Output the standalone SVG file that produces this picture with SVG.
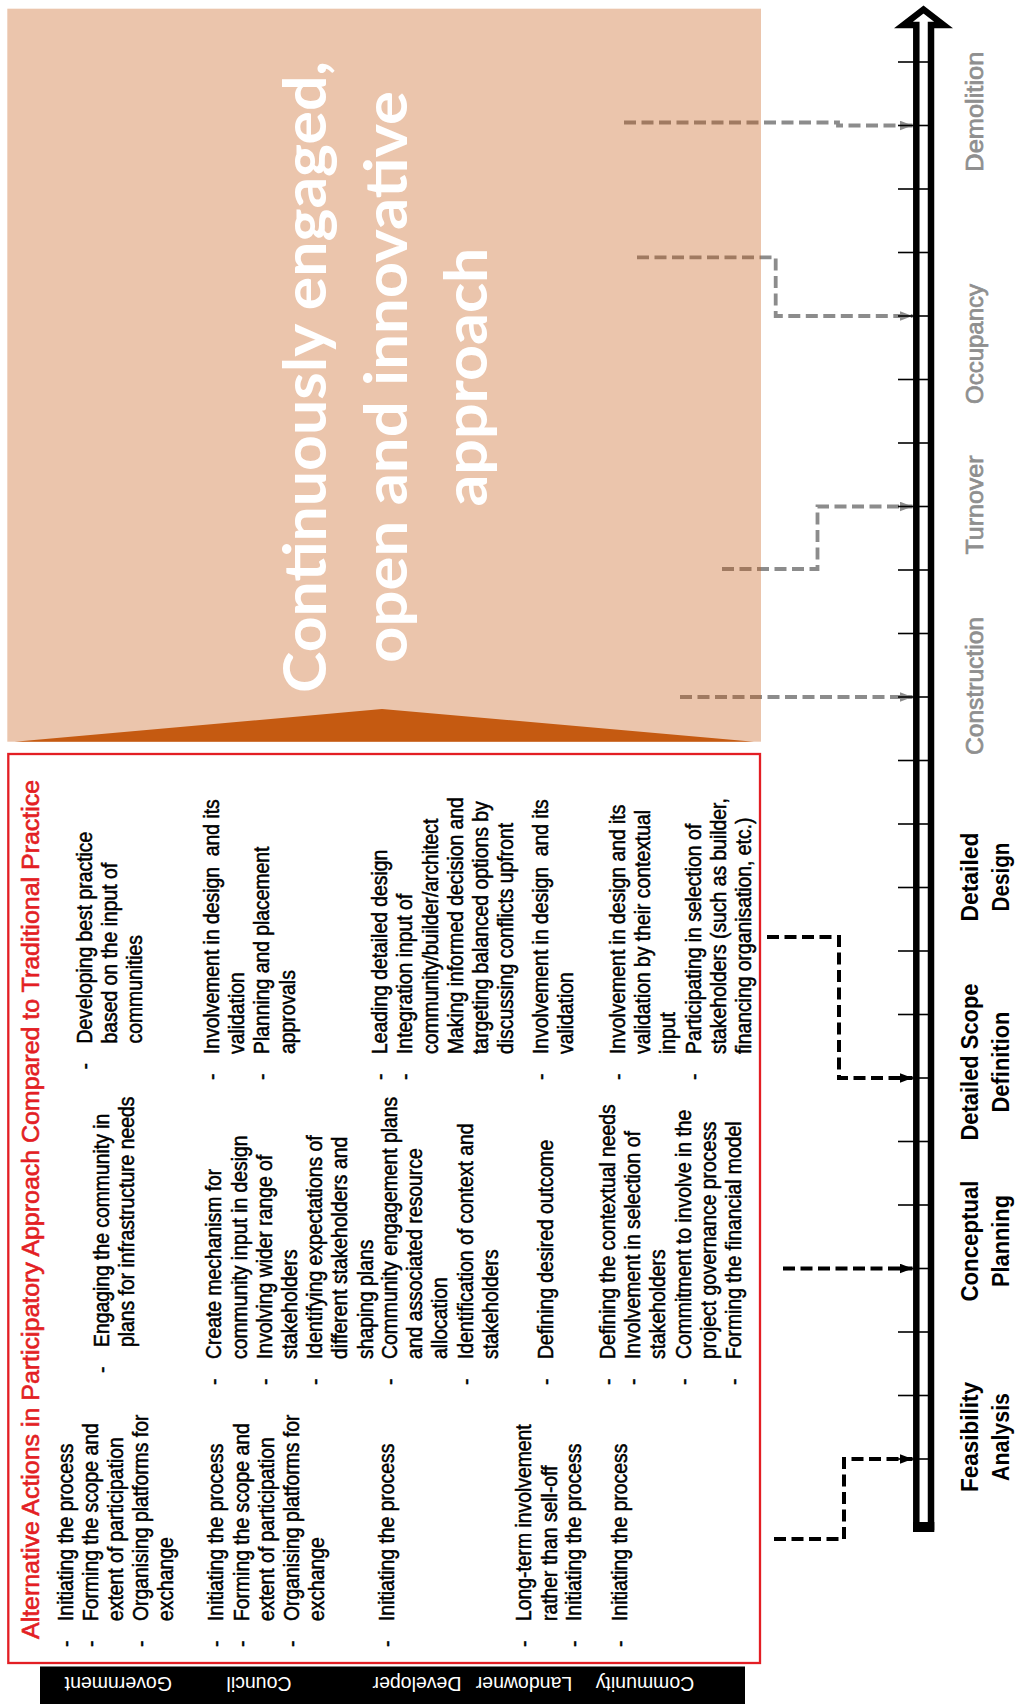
<svg xmlns="http://www.w3.org/2000/svg" width="1017" height="1704" viewBox="0 0 1017 1704">
  <defs>
    <style>
      .body{font-family:"Liberation Sans",Arial,sans-serif;font-size:21.5px;fill:#000;stroke:#000;stroke-width:0.5px;}
      .title{font-family:"Liberation Sans",Arial,sans-serif;font-size:23.3px;fill:#e31e24;stroke:#e31e24;stroke-width:0.6px;}
      .big{font-family:Lato,"Open Sans",sans-serif;font-weight:700;font-size:60px;fill:#fff;text-anchor:middle;}
      .stage{font-family:"Liberation Sans",Arial,sans-serif;font-weight:700;font-size:23px;fill:#000;text-anchor:middle;}
      .stage-later{font-family:"Liberation Sans",Arial,sans-serif;font-size:23px;fill:#8f8f8f;stroke:#8f8f8f;stroke-width:0.7px;text-anchor:middle;}
      .who{font-family:"Liberation Sans",Arial,sans-serif;font-size:19.5px;fill:#fff;text-anchor:middle;}
      .dash-k{fill:none;stroke:#000;stroke-width:4;stroke-dasharray:12 5.5;marker-end:url(#head-k);}
      .dash-g{fill:none;stroke:#8c8c8c;stroke-width:3.8;stroke-dasharray:12 5.5;marker-end:url(#head-g);}
      .tick{stroke:#000;stroke-width:1.6;}
    </style>
    <marker id="head-k" markerUnits="userSpaceOnUse" markerWidth="13" markerHeight="10" refX="13" refY="5" orient="auto">
      <path d="M0,0 L13,5 L0,10 Z" fill="#000"/>
    </marker>
    <marker id="head-g" markerUnits="userSpaceOnUse" markerWidth="13" markerHeight="10" refX="13" refY="5" orient="auto">
      <path d="M0,0 L13,5 L0,10 Z" fill="#8c8c8c"/>
    </marker>
  </defs>

  <rect width="1017" height="1704" fill="#fff"/>

  <!-- dashed links from the actions to the life-cycle stages -->
  <g id="connectors">
    <path class="dash-k" d="M774,1539 H844 V1459 H912.5"/>
    <path class="dash-k" d="M783,1268.5 H912.5"/>
    <path class="dash-k" d="M767,937 H839 V1078 H912.5"/>
    <path class="dash-g" d="M680,697 H912.5"/>
    <path class="dash-g" d="M722,569 H817.5 V506.5 H912.5"/>
    <path class="dash-g" d="M637,257.3 H775.7 V316 H912.5"/>
    <path class="dash-g" d="M624,122.5 H838 V125.5 H912.5"/>
  </g>

  <!-- translucent approach panel (lies over the grey links) -->
  <g id="approach-panel">
    <rect x="7.3" y="8.7" width="753.7" height="733" fill="#c55a11" fill-opacity="0.35"/>
    <polygon points="14.5,741.7 382,709 754,741.7" fill="#c55a11"/>
    <g transform="translate(0,377) rotate(-90)">
      <text class="big" x="0" y="326" textLength="632" lengthAdjust="spacingAndGlyphs">Continuously engaged,</text>
      <text class="big" x="0" y="407" textLength="572" lengthAdjust="spacingAndGlyphs">open and innovative</text>
      <text class="big" x="0" y="487" textLength="259" lengthAdjust="spacingAndGlyphs">approach</text>
    </g>
  </g>

  <!-- alternative actions box -->
  <g id="actions-box">
    <rect x="8.3" y="754" width="751.7" height="909" fill="none" stroke="#e31e24" stroke-width="2.3"/>
    <g transform="translate(0,1639) rotate(-90)">
      <text class="title" x="0" y="39.3" textLength="859" lengthAdjust="spacingAndGlyphs">Alternative Actions in Participatory Approach Compared to Traditional Practice</text>
    </g>
  </g>

  <g id="row-government" class="body">
    <g transform="translate(0,1621) rotate(-90) scale(0.9,1)">
      <text x="-29" y="72.7">-</text><text x="0" y="72.7">Initiating the process</text>
      <text x="-29" y="97.9">-</text><text x="0" y="97.9">Forming the scope and</text>
      <text x="0" y="123.1">extent of participation</text>
      <text x="-29" y="148.3">-</text><text x="0" y="148.3">Organising platforms for</text>
      <text x="0" y="173.5">exchange</text>
    </g>
    <g transform="translate(0,1347) rotate(-90) scale(0.9,1)">
      <text x="-29" y="109">-</text><text x="0" y="109">Engaging the community in</text>
      <text x="0" y="134">plans for infrastructure needs</text>
    </g>
    <g transform="translate(0,1043.5) rotate(-90) scale(0.9,1)">
      <text x="-29" y="92">-</text><text x="0" y="92">Developing best practice</text>
      <text x="0" y="117">based on the input of</text>
      <text x="0" y="142">communities</text>
    </g>
  </g>

  <g id="row-council" class="body">
    <g transform="translate(0,1621) rotate(-90) scale(0.9,1)">
      <text x="-29" y="223.5">-</text><text x="0" y="223.5">Initiating the process</text>
      <text x="-29" y="248.7">-</text><text x="0" y="248.7">Forming the scope and</text>
      <text x="0" y="273.9">extent of participation</text>
      <text x="-29" y="299.1">-</text><text x="0" y="299.1">Organising platforms for</text>
      <text x="0" y="324.3">exchange</text>
    </g>
    <g transform="translate(0,1359) rotate(-90) scale(0.9,1)">
      <text x="-29" y="221.5">-</text><text x="0" y="221.5">Create mechanism for</text>
      <text x="0" y="246.7">community input in design</text>
      <text x="-29" y="271.9">-</text><text x="0" y="271.9">Involving wider range of</text>
      <text x="0" y="297.1">stakeholders</text>
      <text x="-29" y="322.3">-</text><text x="0" y="322.3">Identifying expectations of</text>
      <text x="0" y="347.5">different stakeholders and</text>
      <text x="0" y="372.7">shaping plans</text>
    </g>
    <g transform="translate(0,1054) rotate(-90) scale(0.9,1)">
      <text x="-29" y="219">-</text><text x="0" y="219" style="white-space:pre">Involvement in design  and its</text>
      <text x="0" y="244.2">validation</text>
      <text x="-29" y="269.4">-</text><text x="0" y="269.4">Planning and placement</text>
      <text x="0" y="294.6">approvals</text>
    </g>
  </g>

  <g id="row-developer" class="body">
    <g transform="translate(0,1621) rotate(-90) scale(0.9,1)">
      <text x="-29" y="394.5">-</text><text x="0" y="394.5">Initiating the process</text>
    </g>
    <g transform="translate(0,1359) rotate(-90) scale(0.9,1)">
      <text x="-29" y="397">-</text><text x="0" y="397">Community engagement plans</text>
      <text x="0" y="422.2">and associated resource</text>
      <text x="0" y="447.4">allocation</text>
      <text x="-29" y="472.6">-</text><text x="0" y="472.6">Identification of context and</text>
      <text x="0" y="497.8">stakeholders</text>
    </g>
    <g transform="translate(0,1054) rotate(-90) scale(0.9,1)">
      <text x="-29" y="387.3">-</text><text x="0" y="387.3">Leading detailed design</text>
      <text x="-29" y="412.5">-</text><text x="0" y="412.5">Integration input of</text>
      <text x="0" y="437.7">community/builder/architect</text>
      <text x="0" y="462.9">Making informed decision and</text>
      <text x="0" y="488.1">targeting balanced options by</text>
      <text x="0" y="513.3">discussing conflicts upfront</text>
    </g>
  </g>

  <g id="row-landowner" class="body">
    <g transform="translate(0,1621) rotate(-90) scale(0.9,1)">
      <text x="-29" y="531.5">-</text><text x="0" y="531.5">Long-term involvement</text>
      <text x="0" y="556.7">rather than sell-off</text>
      <text x="-29" y="581">-</text><text x="0" y="581">Initiating the process</text>
    </g>
    <g transform="translate(0,1359) rotate(-90) scale(0.9,1)">
      <text x="-29" y="553">-</text><text x="0" y="553">Defining desired outcome</text>
    </g>
    <g transform="translate(0,1054) rotate(-90) scale(0.9,1)">
      <text x="-29" y="548">-</text><text x="0" y="548" style="white-space:pre">Involvement in design  and its</text>
      <text x="0" y="573.2">validation</text>
    </g>
  </g>

  <g id="row-community" class="body">
    <g transform="translate(0,1621) rotate(-90) scale(0.9,1)">
      <text x="-29" y="626.7">-</text><text x="0" y="626.7">Initiating the process</text>
    </g>
    <g transform="translate(0,1359) rotate(-90) scale(0.9,1)">
      <text x="-29" y="615">-</text><text x="0" y="615">Defining the contextual needs</text>
      <text x="-29" y="640.2">-</text><text x="0" y="640.2">Involvement in selection of</text>
      <text x="0" y="665.4">stakeholders</text>
      <text x="-29" y="690.6">-</text><text x="0" y="690.6">Commitment to involve in the</text>
      <text x="0" y="715.8">project governance process</text>
      <text x="-29" y="741">-</text><text x="0" y="741">Forming the financial model</text>
    </g>
    <g transform="translate(0,1054) rotate(-90) scale(0.9,1)">
      <text x="-29" y="625">-</text><text x="0" y="625">Involvement in design and its</text>
      <text x="0" y="650.2">validation by their contextual</text>
      <text x="0" y="675.4">input</text>
      <text x="-29" y="700.6">-</text><text x="0" y="700.6">Participating in selection of</text>
      <text x="0" y="725.8">stakeholders (such as builder,</text>
      <text x="0" y="751">financing organisation, etc.)</text>
    </g>
  </g>

  <!-- stakeholder bar, labels printed upside down -->
  <g id="stakeholder-bar">
    <rect x="40" y="1666.5" width="705" height="37.5" fill="#000"/>
    <text class="who" transform="translate(118.3,1677) rotate(180)">Government</text>
    <text class="who" transform="translate(259,1677) rotate(180)">Council</text>
    <text class="who" transform="translate(417,1677) rotate(180)">Developer</text>
    <text class="who" transform="translate(524,1677) rotate(180)">Landowner</text>
    <text class="who" transform="translate(645,1677) rotate(180)">Community</text>
  </g>

  <!-- project life-cycle axis -->
  <g id="timeline">
    <path d="M916.3,1527 V25 H903.5 L923.5,9.5 L943.5,25 H931 V1527 Z" fill="#fff" stroke="#000" stroke-width="6.5" stroke-linejoin="miter"/>
    <rect x="913" y="1522" width="21.3" height="10" fill="#000"/>
    <line class="tick" x1="898" y1="1459" x2="929" y2="1459"/>
    <line class="tick" x1="898" y1="1395.5" x2="929" y2="1395.5"/>
    <line class="tick" x1="898" y1="1332" x2="929" y2="1332"/>
    <line class="tick" x1="898" y1="1268.5" x2="929" y2="1268.5"/>
    <line class="tick" x1="898" y1="1205" x2="929" y2="1205"/>
    <line class="tick" x1="898" y1="1141.5" x2="929" y2="1141.5"/>
    <line class="tick" x1="898" y1="1078" x2="929" y2="1078"/>
    <line class="tick" x1="898" y1="1014.5" x2="929" y2="1014.5"/>
    <line class="tick" x1="898" y1="951" x2="929" y2="951"/>
    <line class="tick" x1="898" y1="887.5" x2="929" y2="887.5"/>
    <line class="tick" x1="898" y1="824" x2="929" y2="824"/>
    <line class="tick" x1="898" y1="760.5" x2="929" y2="760.5"/>
    <line class="tick" x1="898" y1="697" x2="929" y2="697"/>
    <line class="tick" x1="898" y1="633.5" x2="929" y2="633.5"/>
    <line class="tick" x1="898" y1="570" x2="929" y2="570"/>
    <line class="tick" x1="898" y1="506.5" x2="929" y2="506.5"/>
    <line class="tick" x1="898" y1="443" x2="929" y2="443"/>
    <line class="tick" x1="898" y1="379.5" x2="929" y2="379.5"/>
    <line class="tick" x1="898" y1="316" x2="929" y2="316"/>
    <line class="tick" x1="898" y1="252.5" x2="929" y2="252.5"/>
    <line class="tick" x1="898" y1="189" x2="929" y2="189"/>
    <line class="tick" x1="898" y1="125.5" x2="929" y2="125.5"/>
    <line class="tick" x1="898" y1="62" x2="929" y2="62"/>
  </g>

  <g id="stage-labels">
    <g transform="translate(0,1437) rotate(-90)">
      <text class="stage" x="0" y="978" textLength="110" lengthAdjust="spacingAndGlyphs">Feasibility</text>
      <text class="stage" x="0" y="1009" textLength="88" lengthAdjust="spacingAndGlyphs">Analysis</text>
    </g>
    <g transform="translate(0,1241) rotate(-90)">
      <text class="stage" x="0" y="978" textLength="121" lengthAdjust="spacingAndGlyphs">Conceptual</text>
      <text class="stage" x="0" y="1009" textLength="92" lengthAdjust="spacingAndGlyphs">Planning</text>
    </g>
    <g transform="translate(0,1062) rotate(-90)">
      <text class="stage" x="0" y="978" textLength="157" lengthAdjust="spacingAndGlyphs">Detailed Scope</text>
      <text class="stage" x="0" y="1009" textLength="101" lengthAdjust="spacingAndGlyphs">Definition</text>
    </g>
    <g transform="translate(0,877) rotate(-90)">
      <text class="stage" x="0" y="978" textLength="89" lengthAdjust="spacingAndGlyphs">Detailed</text>
      <text class="stage" x="0" y="1009" textLength="69" lengthAdjust="spacingAndGlyphs">Design</text>
    </g>
    <g transform="translate(0,686) rotate(-90)">
      <text class="stage-later" x="0" y="983" textLength="138" lengthAdjust="spacingAndGlyphs">Construction</text>
    </g>
    <g transform="translate(0,505) rotate(-90)">
      <text class="stage-later" x="0" y="983" textLength="99" lengthAdjust="spacingAndGlyphs">Turnover</text>
    </g>
    <g transform="translate(0,344) rotate(-90)">
      <text class="stage-later" x="0" y="983" textLength="120" lengthAdjust="spacingAndGlyphs">Occupancy</text>
    </g>
    <g transform="translate(0,111.7) rotate(-90)">
      <text class="stage-later" x="0" y="983" textLength="120" lengthAdjust="spacingAndGlyphs">Demolition</text>
    </g>
  </g>
</svg>
